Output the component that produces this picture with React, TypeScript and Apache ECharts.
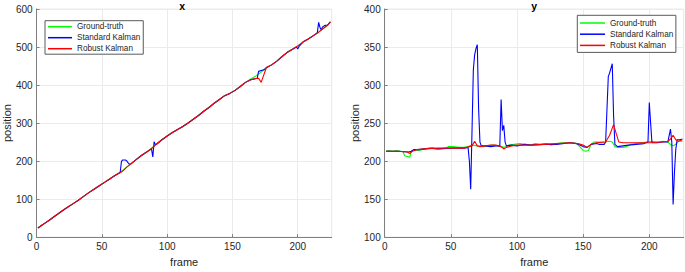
import React, { useEffect, useRef } from "react";
import * as echarts from "echarts";

// ---------- data (frame, value) ----------
const seriesNames = ["Ground-truth", "Standard Kalman", "Robust Kalman"];
const seriesColors = ["#00ff00", "#0000ff", "#ff0000"];
const panelTitles = ["x", "y"];
const xTicks = [0, 50, 100, 150, 200];
const leftYTicks = [0, 100, 200, 300, 400, 500, 600];
const rightYTicks = [100, 150, 200, 250, 300, 350, 400];

const xGroundTruth: number[][] = [
  [1, 24], [4, 31], [7, 38], [10, 45], [13, 53], [16, 60], [20, 70], [24, 79], [28, 88], [32, 97],
  [36, 107], [40, 117], [44, 126], [48, 135], [52, 144], [56, 153], [60, 162], [63, 168], [66, 176],
  [69, 184], [72, 192], [76, 203], [80, 214], [84, 223], [88, 233], [92, 245], [96, 256], [100, 266],
  [104, 275], [108, 283], [112, 291], [116, 300], [120, 310], [124, 320], [128, 331], [132, 341],
  [136, 352], [140, 362], [144, 372], [148, 378], [152, 386], [156, 396], [160, 407], [164, 416],
  [168, 424], [172, 434], [176, 445], [180, 453], [184, 463], [188, 475], [192, 486], [196, 494],
  [200, 503], [204, 513], [208, 521], [212, 530], [216, 539], [220, 550], [223, 558], [225, 566],
];
const xStandard: number[][] = [
  [1, 24], [4, 31], [7, 38], [10, 45], [13, 53], [16, 60], [20, 70], [24, 79], [28, 88], [32, 97],
  [36, 107], [40, 117], [44, 126], [48, 135], [52, 144], [56, 153], [60, 162], [63, 168], [64, 170],
  [65, 199], [66, 203], [68, 203], [69, 201], [70, 196], [71, 192], [72, 192], [76, 203], [80, 214],
  [84, 223], [87, 230], [88, 232], [89, 211], [90, 251], [91, 243], [92, 245], [96, 256], [100, 266],
  [104, 275], [108, 283], [112, 291], [116, 300], [120, 310], [124, 320], [128, 331], [132, 341],
  [136, 352], [140, 362], [144, 372], [148, 378], [152, 386], [156, 396], [160, 407], [164, 414],
  [168, 417], [169, 418], [170, 436], [174, 440], [176, 446], [180, 453], [184, 463], [188, 475],
  [192, 486], [196, 494], [199, 500], [200, 495], [201, 502], [204, 513], [208, 521], [212, 530],
  [215, 538], [216, 565], [217, 552], [218, 545], [219, 553], [221, 557], [223, 558], [225, 566],
];
const xRobust: number[][] = [
  [1, 24], [4, 31], [7, 38], [10, 45], [13, 53], [16, 60], [20, 70], [24, 79], [28, 88], [32, 97],
  [36, 107], [40, 117], [44, 126], [48, 135], [52, 144], [56, 153], [60, 162], [63, 168], [65, 171],
  [67, 177], [69, 184], [72, 192], [76, 203], [80, 214], [84, 223], [88, 233], [92, 245], [96, 256],
  [100, 266], [104, 275], [108, 283], [112, 291], [116, 300], [120, 310], [124, 320], [128, 331],
  [132, 341], [136, 352], [140, 362], [144, 372], [148, 378], [152, 386], [156, 396], [160, 407],
  [164, 414], [168, 417], [170, 418], [172, 407], [176, 446], [180, 453], [184, 463], [188, 475],
  [192, 486], [196, 494], [200, 503], [204, 513], [208, 521], [212, 530], [216, 539], [220, 550],
  [223, 558], [225, 566],
];

const yGroundTruth: number[][] = [
  [1, 213], [3, 214], [6, 213], [9, 214], [12, 213], [14, 212], [15, 207], [17, 206], [19, 205],
  [20, 213], [22, 215], [26, 214], [30, 216], [34, 217], [38, 216], [42, 216], [46, 217], [48, 219],
  [52, 219], [56, 218], [60, 218], [63, 219], [66, 221], [70, 220], [74, 219], [78, 220], [82, 221],
  [86, 220], [90, 218], [94, 221], [98, 222], [102, 223], [106, 222], [110, 221], [114, 223],
  [118, 222], [122, 223], [126, 221], [130, 223], [134, 224], [138, 224], [142, 224], [145, 223],
  [148, 218], [150, 214], [152, 213], [154, 214], [156, 222], [158, 225], [162, 225], [166, 225],
  [170, 226], [172, 225], [174, 219], [176, 218], [180, 218], [183, 219], [186, 222], [190, 223],
  [194, 224], [198, 225], [202, 226], [206, 225], [210, 226], [214, 225], [216, 222], [218, 220],
  [220, 222], [222, 226], [225, 226],
];
const yStandard: number[][] = [
  [1, 213], [10, 213], [18, 212], [20, 213], [22, 215], [26, 215], [30, 216], [36, 217], [40, 216],
  [50, 217], [60, 217], [63, 218], [64, 200], [65, 163], [66, 240], [67, 320], [68, 340], [69, 348],
  [70, 353], [71, 268], [72, 225], [73, 220], [76, 220], [80, 219], [84, 220], [87, 220], [88, 281],
  [89, 240], [90, 247], [91, 225], [92, 220], [96, 221], [100, 220], [106, 222], [110, 221],
  [120, 222], [130, 222], [140, 224], [145, 223], [150, 219], [153, 218], [156, 222], [160, 223],
  [162, 222], [166, 222], [167, 225], [169, 311], [170, 316], [172, 328], [173, 260], [174, 222],
  [176, 219], [180, 220], [184, 221], [190, 222], [196, 223], [199, 225], [200, 277], [201, 250],
  [202, 224], [206, 224], [210, 225], [214, 225], [216, 242], [217, 225], [218, 143], [219, 185],
  [220, 215], [221, 228], [223, 228], [225, 229],
];
const yRobust: number[][] = [
  [1, 213], [10, 213], [17, 212], [19, 210], [21, 213], [24, 215], [30, 216], [40, 217], [50, 217],
  [60, 217], [64, 219], [66, 220], [68, 226], [70, 220], [72, 219], [76, 220], [80, 221], [84, 221],
  [88, 219], [90, 216], [92, 218], [96, 220], [100, 221], [110, 221], [120, 222], [130, 223],
  [140, 224], [146, 223], [150, 221], [153, 218], [156, 222], [160, 224], [167, 225], [170, 234],
  [173, 248], [175, 236], [177, 225], [180, 224], [190, 224], [200, 224], [210, 225], [214, 226],
  [216, 229], [218, 234], [220, 228], [222, 226], [225, 228],
];

const FONT = "'Liberation Sans', Arial, Helvetica, sans-serif";
const AXIS_COLOR = "#808080";
const TEXT_COLOR = "#262626";
const GRID_COLOR = "#ebebeb";

function xAxisCfg(gridIndex: number) {
  return {
    type: "value",
    gridIndex,
    min: 0,
    max: 226,
    interval: 50,
    name: "frame",
    nameLocation: "middle",
    nameGap: 16,
    nameTextStyle: { fontSize: 11, color: TEXT_COLOR, fontFamily: FONT },
    axisLine: { show: true, onZero: false, lineStyle: { color: AXIS_COLOR, width: 1 } },
    axisTick: { show: true, inside: true, length: 3, lineStyle: { color: AXIS_COLOR } },
    axisLabel: {
      fontSize: 10, color: TEXT_COLOR, fontFamily: FONT, margin: 4, showMaxLabel: false,
      formatter: (v: number) => (xTicks.includes(v) ? String(v) : ""),
    },
    splitLine: { show: true, lineStyle: { color: GRID_COLOR, width: 1 } },
  };
}

function yAxisCfg(gridIndex: number, ticks: number[]) {
  return {
    type: "value",
    gridIndex,
    min: ticks[0],
    max: ticks[ticks.length - 1],
    interval: ticks[1] - ticks[0],
    name: "position",
    nameLocation: "middle",
    nameGap: 20,
    nameTextStyle: { fontSize: 11, color: TEXT_COLOR, fontFamily: FONT },
    axisLine: { show: true, onZero: false, lineStyle: { color: AXIS_COLOR, width: 1 } },
    axisTick: { show: true, inside: true, length: 3, lineStyle: { color: AXIS_COLOR } },
    axisLabel: { fontSize: 10, color: TEXT_COLOR, fontFamily: FONT, margin: 4 },
    splitLine: { show: true, lineStyle: { color: GRID_COLOR, width: 1 } },
  };
}

function lineSeries(name: string, color: string, data: number[][], idx: number) {
  return {
    type: "line",
    name,
    xAxisIndex: idx,
    yAxisIndex: idx,
    data,
    showSymbol: false,
    symbol: "none",
    lineStyle: { color, width: 1.1 },
    itemStyle: { color },
    z: 2,
  };
}

export default function App() {
  const ref = useRef<HTMLDivElement>(null);
  useEffect(() => {
    if (!ref.current) return;
    const chart = echarts.init(ref.current, undefined, { renderer: "svg" });
    const legendBase = {
      orient: "vertical",
      icon: "rect",
      itemHeight: 1.5,
      itemGap: 0,
      backgroundColor: "#ffffff",
      borderColor: "#5a5a5a",
      borderWidth: 1,
      borderRadius: 0,
      data: seriesNames,
      selectedMode: false,
    };
    const titleStyle = {
      fontSize: 10.5, fontWeight: "bold", fontFamily: FONT, fill: "#000",
      align: "center", verticalAlign: "top",
    };
    chart.setOption({
      animation: false,
      backgroundColor: "#ffffff",
      textStyle: { fontFamily: FONT },
      grid: [
        { left: 32.5, top: 9, width: 299.2, height: 234.7, show: true, borderColor: GRID_COLOR, borderWidth: 1, backgroundColor: "transparent" },
        { left: 384.7, top: 9, width: 299, height: 234.7, show: true, borderColor: GRID_COLOR, borderWidth: 1, backgroundColor: "transparent" },
      ],
      xAxis: [xAxisCfg(0), xAxisCfg(1)],
      yAxis: [yAxisCfg(0, leftYTicks), yAxisCfg(1, rightYTicks)],
      legend: [
        {
          ...legendBase,
          left: 45,
          top: 20.7,
          itemWidth: 24,
          padding: [0.5, 3, 0, 3],
          textStyle: { fontSize: 8.2, lineHeight: 11, color: TEXT_COLOR, fontFamily: FONT },
        },
        {
          ...legendBase,
          left: 577.3,
          top: 15.3,
          itemWidth: 25,
          padding: [2.1, 2.6, 1.4, 2.7],
          textStyle: { fontSize: 8.2, lineHeight: 11.2, color: TEXT_COLOR, fontFamily: FONT },
        },
      ],
      graphic: [
        { type: "text", x: 182.1, y: 0, z: 10, style: { ...titleStyle, text: panelTitles[0] } },
        { type: "text", x: 534.2, y: 0, z: 10, style: { ...titleStyle, text: panelTitles[1] } },
      ],
      series: [
        lineSeries(seriesNames[0], seriesColors[0], xGroundTruth, 0),
        lineSeries(seriesNames[1], seriesColors[1], xStandard, 0),
        lineSeries(seriesNames[2], seriesColors[2], xRobust, 0),
        lineSeries(seriesNames[0], seriesColors[0], yGroundTruth, 1),
        lineSeries(seriesNames[1], seriesColors[1], yStandard, 1),
        lineSeries(seriesNames[2], seriesColors[2], yRobust, 1),
      ],
    });
    return () => chart.dispose();
  }, []);
  return <div ref={ref} style={{ position: "absolute", left: 0, top: 0, width: 685, height: 272 }} />;
}
